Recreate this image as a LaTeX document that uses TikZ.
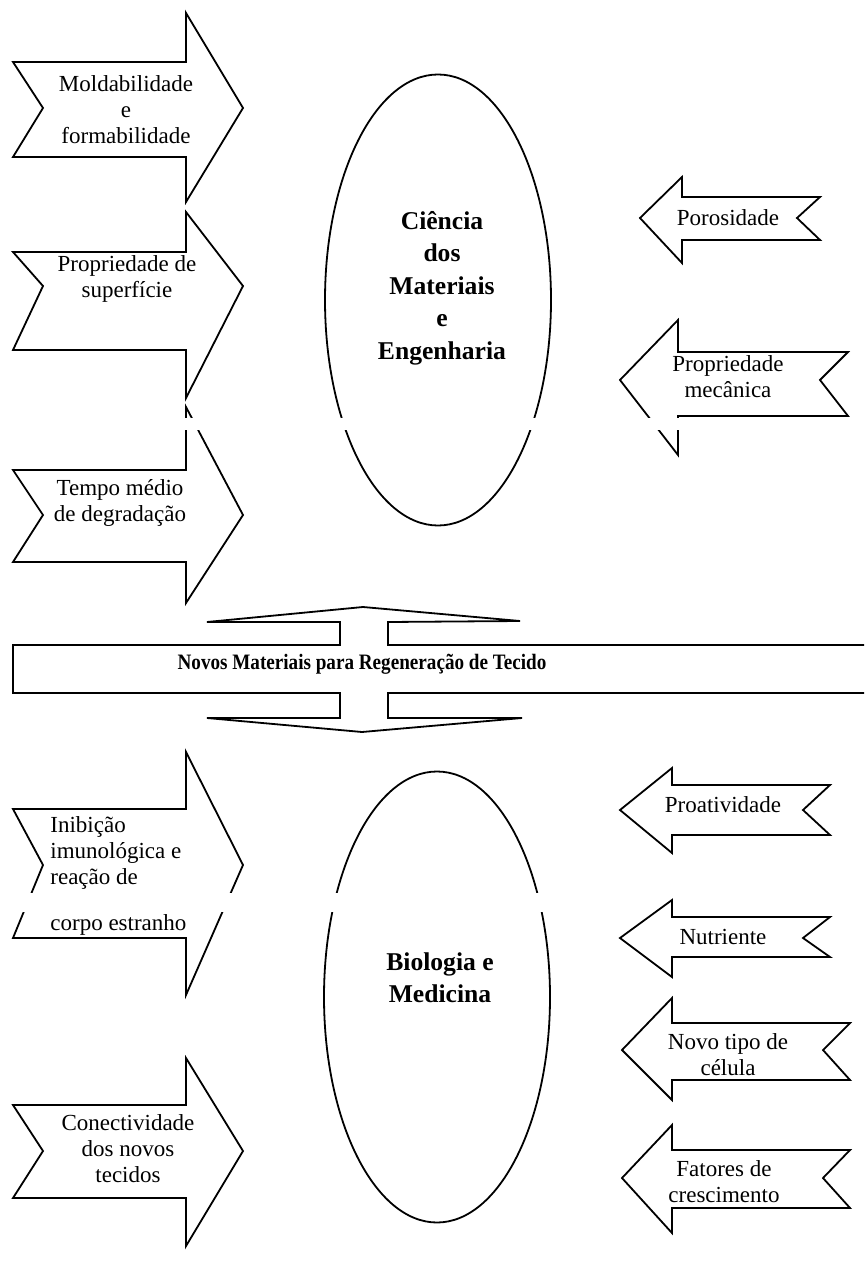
\documentclass[tikz,border=0pt]{standalone}
\usepackage{fontspec}
\setmainfont{Liberation Serif}
\usetikzlibrary{shapes.geometric}
\begin{document}
\begin{tikzpicture}
[x=0.5pt,y=-0.5pt,
  shapeline/.style={line width=0.9pt,line join=miter},
  ovaldecorate/.style={shape=ellipse,draw,line width=0.9pt,inner sep=0pt,
    minimum width=113pt,minimum height=225.5pt},
  labeltext/.style={font=\fontsize{11.5}{13}\selectfont,align=center,inner sep=0pt},
  ovaltext/.style={font=\fontsize{12.8}{16.2}\selectfont\bfseries,align=center,inner sep=0pt},
  bannertext/.style={font=\fontsize{11}{13}\selectfont\bfseries,inner sep=0pt}]
\useasboundingbox (0,0) rectangle (864,1278);
%% ovals
\node (cme) at (438,300) [ovaldecorate] {};
\node (bio) at (437,997) [ovaldecorate] {};
\node (cmetext) at (442,288) [ovaltext] {Ciência\\dos\\Materiais\\e\\Engenharia};
\node (biotext) at (440,978) [ovaltext] {Biologia e\\Medicina};
%% arrows pointing to the right
\foreach \ht/\st/\ty/\sb/\hb in {13/62/108/157/202, 212/252/286/350/398,
  407/470/515/562/603, 752/809/865/938/995, 1058/1105/1151/1198/1246} {
  \draw[shapeline] (13,\st) -- (186,\st) -- (186,\ht) -- (243,\ty) -- (186,\hb)
    -- (186,\sb) -- (13,\sb) -- (43,\ty) -- cycle;
}
%% arrows pointing to the left
\foreach \xt/\xh/\xr/\xn/\ht/\st/\ty/\sb/\hb in {640/682/820/797/177/197/218/240/263,
  620/678/848/820/320/352/380/416/455, 620/672/830/803/768/785/810/835/853,
  620/672/830/803/900/917/938/957/977, 622/672/850/823/998/1023/1050/1080/1100,
  622/672/850/823/1125/1150/1178/1208/1233} {
  \draw[shapeline] (\xt,\ty) -- (\xh,\ht) -- (\xh,\st) -- (\xr,\st) -- (\xn,\ty)
    -- (\xr,\sb) -- (\xh,\sb) -- (\xh,\hb) -- cycle;
}
%% banner with its two flat arrows
\draw[shapeline] (864,645) -- (388,645) -- (388,622) -- (520,621) -- (363,607)
  -- (207,622) -- (340,622) -- (340,645) -- (13,645) -- (13,693) -- (340,693)
  -- (340,718) -- (207,718) -- (362,732) -- (522,718) -- (388,718) -- (388,693)
  -- (864,693);
\node (novos) at (362,664) [bannertext]
  {\scalebox{0.87}[1]{Novos Materiais para Regeneração de Tecido}};
%% gaps of the scan
\fill[white] (0,418) rectangle (864,430);
\fill[white] (0,893) rectangle (560,912);
%% labels
\node (molda) at (126,110) [labeltext] {Moldabilidade\\e\\formabilidade};
\node (propsup) at (127,279) [labeltext] {Propriedade de\\superfície};
\node (tempo) at (120,503) [labeltext] {Tempo médio\\de degradação};
\node (inibe) at (50,876) [labeltext,align=left,anchor=west]
  {Inibição\\imunológica e\\reação de\\[10pt]corpo estranho};
\node (conect) at (128,1149) [labeltext] {Conectividade\\dos novos\\tecidos};
\node (poros) at (728,218) [labeltext] {Porosidade};
\node (propmec) at (728,377) [labeltext] {Propriedade\\mecânica};
\node (proat) at (723,805) [labeltext] {Proatividade};
\node (nutri) at (723,937) [labeltext] {Nutriente};
\node (novotipo) at (728,1055) [labeltext] {Novo tipo de\\célula};
\node (fatores) at (724,1182) [labeltext] {Fatores de\\crescimento};
\end{tikzpicture}
\end{document}
